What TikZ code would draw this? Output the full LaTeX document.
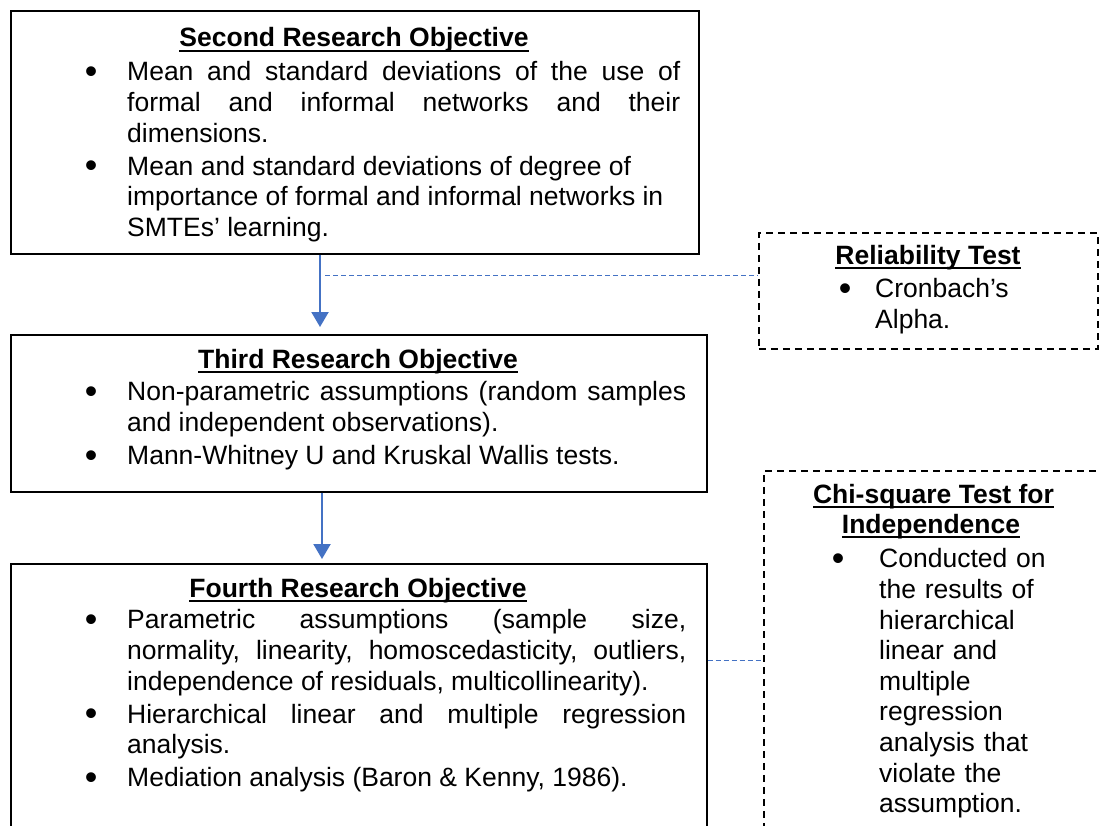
\documentclass[tikz,border=0pt]{standalone}
\usepackage{fontspec}
\setmainfont{Liberation Sans}
\usetikzlibrary{arrows.meta}

\definecolor{flowblue}{HTML}{4472C4}

% bold heading with a fixed underline just below the baseline
\newcommand{\titleline}[1]{\setbox0\hbox{\bfseries #1}\rlap{\rule[-5pt]{\wd0}{1.8pt}}\box0}
% a slightly heavier bullet dot
\newcommand{\dotmark}{\raisebox{-2.5pt}{\scalebox{1.35}{\textbullet}}}
% bullet item: the bullet hangs in the left margin, centred half the box width away
\newcommand{\bitem}[1][72pt]{\par\noindent\strut\llap{\hbox to #1{\hss\dotmark\hss}}\ignorespaces}

\begin{document}
\begin{tikzpicture}[x=1pt,y=-1pt,
  objbox/.style={draw=black, line width=1.6pt, anchor=north west, inner sep=0pt},
  testbox/.style={draw=black, line width=1.5pt, dash pattern=on 7pt off 5pt, anchor=north west, inner sep=0pt},
  heading/.style={anchor=base, inner sep=0pt, font=\fontsize{26.5}{30.6}\selectfont},
  body/.style={anchor=north west, inner sep=0pt, font=\fontsize{26.5}{30.6}\selectfont,
    execute at begin node={\setlength{\parskip}{2.5pt}\tolerance=10000\hyphenpenalty=10000\exhyphenpenalty=10000}},
  flow/.style={draw=flowblue, line width=2.2pt, -{Triangle[width=17pt,length=15pt]}},
  link/.style={draw=flowblue, line width=1pt, dash pattern=on 5pt off 3pt}]
\useasboundingbox (0,0) rectangle (1099,825);

% objective boxes
\node[objbox, minimum width=688, minimum height=243] (b1) at (10,10) {};
\node[objbox, minimum width=696, minimum height=157] (b2) at (10,334) {};
\node[objbox, minimum width=696, minimum height=280] (b3) at (10,563) {};

% test boxes
\node[testbox, minimum width=339, minimum height=116] (rel) at (758,232) {};
\node[testbox, minimum width=360, minimum height=380] (chi) at (763,470) {};

% second objective
\node[heading] (t1) at (354,46.5) {\titleline{Second Research Objective}};
\node[body, text width=553, align=justify] (i1) at (127,47.6) {%
  \bitem Mean and standard deviations of the use of\linebreak formal and informal networks and their\linebreak dimensions.
  \bitem Mean and standard deviations of degree of\newline importance of formal and informal networks in\newline SMTEs’ learning.};

% third objective
\node[heading] (t2) at (358,368) {\titleline{Third Research Objective}};
\node[body, text width=559, align=justify] (i2) at (127,367.6) {%
  \bitem Non-parametric assumptions (random samples\linebreak and independent observations).
  \bitem Mann-Whitney U and Kruskal Wallis tests.};

% fourth objective
\node[heading] (t3) at (358,597) {\titleline{Fourth Research Objective}};
\node[body, text width=559, align=justify] (i3) at (127,595.6) {%
  \bitem Parametric assumptions (sample size,\linebreak normality, linearity, homoscedasticity, outliers,\linebreak independence of residuals, multicollinearity).
  \bitem Hierarchical linear and multiple regression\linebreak analysis.
  \bitem Mediation analysis (Baron \& Kenny, 1986).};

% reliability test
\node[heading] (t4) at (928,264) {\titleline{Reliability Test}};
\node[body, text width=200, align=left] (i4) at (875,264.6) {%
  \bitem[60pt] Cronbach’s\newline Alpha.};

% chi-square test
\node[heading] (t5) at (933.5,503) {\titleline{Chi-square Test for}};
\node[heading] (t6) at (931,533) {\titleline{Independence}};
\node[body, text width=210, align=left] (i5) at (879,534.6) {%
  \bitem[82pt] Conducted on\newline the results of\newline hierarchical\newline linear and\newline multiple\newline regression\newline analysis that\newline violate the\newline assumption.};

% flow between objectives
\coordinate (ax1) at (320,0);
\coordinate (ax2) at (322,0);
\draw[flow, shorten >=7pt] (b1.south -| ax1) -- (b2.north -| ax1);
\draw[flow, shorten >=4pt] (b2.south -| ax2) -- (b3.north -| ax2);

% links to the test boxes
\coordinate (lk1) at (325,275);
\coordinate (lk2) at (0,660);
\draw[link] (lk1) -- (rel.west |- lk1);
\draw[link] (b3.east |- lk2) -- (chi.west |- lk2);
\end{tikzpicture}
\end{document}
